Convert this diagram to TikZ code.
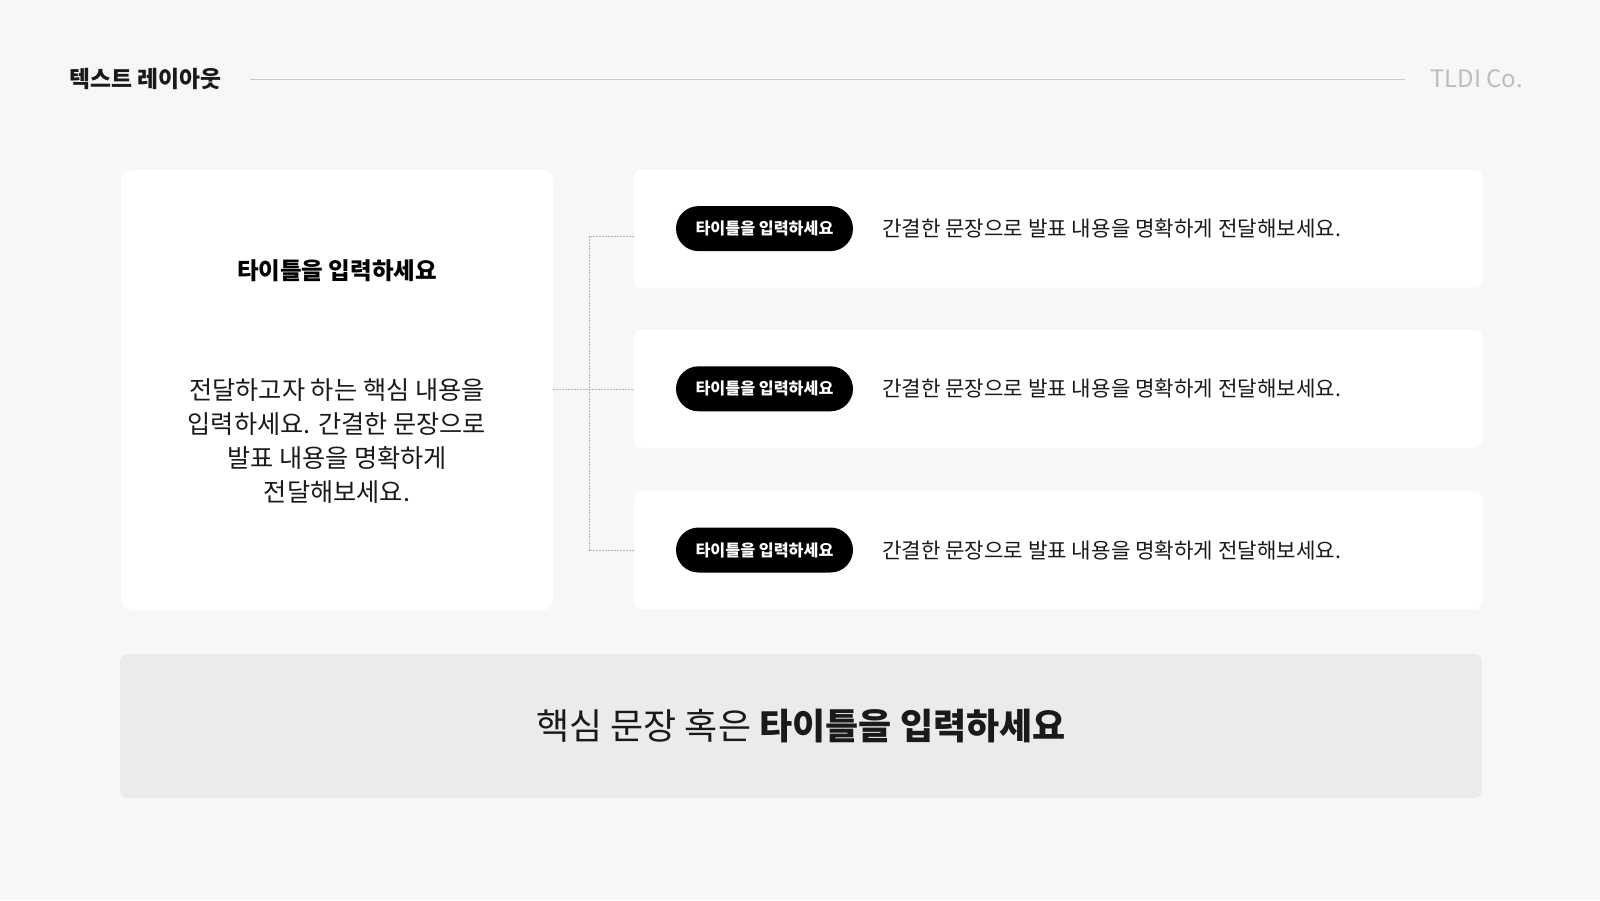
\documentclass[tikz,border=0pt]{standalone}
\usepackage{fontspec}
\setmainfont{Noto Sans CJK KR}
\usetikzlibrary{shapes.misc}
\definecolor{bgc}{HTML}{F7F7F7}
\definecolor{boxc}{HTML}{EBEBEB}
\definecolor{ink}{HTML}{1A1A1A}
\definecolor{hline}{HTML}{C8C8C8}
\definecolor{brand}{HTML}{BDBDBD}
\definecolor{conn}{HTML}{B5B5B5}
\tikzset{
  card/.style={fill=white, draw=none, rounded corners=7pt, inner sep=0pt},
  pill/.style={rounded rectangle, fill=black, text=white, minimum width=177pt, minimum height=45pt, inner sep=0pt, font=\fontsize{16.2}{18}\selectfont\bfseries},
  rowtext/.style={anchor=west, text=ink, inner sep=0pt, font=\fontsize{21.2}{24}\selectfont},
  connector/.style={draw=conn, line width=0.9pt, dash pattern=on 2pt off 1pt},
}
\begin{document}
\begin{tikzpicture}[x=1pt,y=-1pt]
\fill[bgc] (0,0) rectangle (1600,900);
\useasboundingbox (0,0) rectangle (1600,900);
% header
\node[anchor=west, inner sep=0pt, text=ink, font=\fontsize{22.8}{26}\selectfont\bfseries] (head) at (69,79) {텍스트 레이아웃};
\node[anchor=east, inner sep=0pt, text=brand, font=\fontsize{24}{26}\selectfont] (brand) at (1523,79) {TLDI Co.};
\draw[hline, line width=1pt] (250,79) coordinate (hl) -- (1405,79) coordinate (hr);
% left card
\node[card, rounded corners=10pt, minimum width=432pt, minimum height=440pt] (left) at (337,390) {};
\node[inner sep=0pt, text=black, font=\fontsize{23.5}{26}\selectfont\bfseries] (ltitle) at (337,271) {타이틀을 입력하세요};
\node[inner sep=0pt, text=ink, align=center, font=\fontsize{25.2}{34.2}\selectfont] (lbody) at (337,441) {전달하고자 하는 핵심 내용을\\입력하세요. 간결한 문장으로\\발표 내용을 명확하게\\전달해보세요.};
% right cards
\foreach \i/\y in {1/228.6, 2/388.8, 3/550}{
  \node[card, minimum width=848pt, minimum height=118pt] (card\i) at (1058,\y) {};
  \node[pill] (pill\i) at (764.5,\y) {타이틀을 입력하세요};
  \node[rowtext] (row\i) at (882,\y) {간결한 문장으로 발표 내용을 명확하게 전달해보세요.};
}
% connectors
\coordinate (j1) at (589,236);
\coordinate (j2) at (589,389);
\coordinate (j3) at (589,550);
\draw[connector] (left.east |- j2) -- (card2.west |- j2);
\draw[connector] (card1.west |- j1) -- (j1) -- (j3) -- (card3.west |- j3);
% bottom box
\node[card, fill=boxc, rounded corners=8pt, minimum width=1362pt, minimum height=144pt] (bottom) at (801,726) {};
\node[inner sep=0pt, text=ink, font=\fontsize{36}{40}\selectfont] (btext) at (801,726) {핵심 문장 혹은 \textbf{타이틀을 입력하세요}};
\end{tikzpicture}
\end{document}
